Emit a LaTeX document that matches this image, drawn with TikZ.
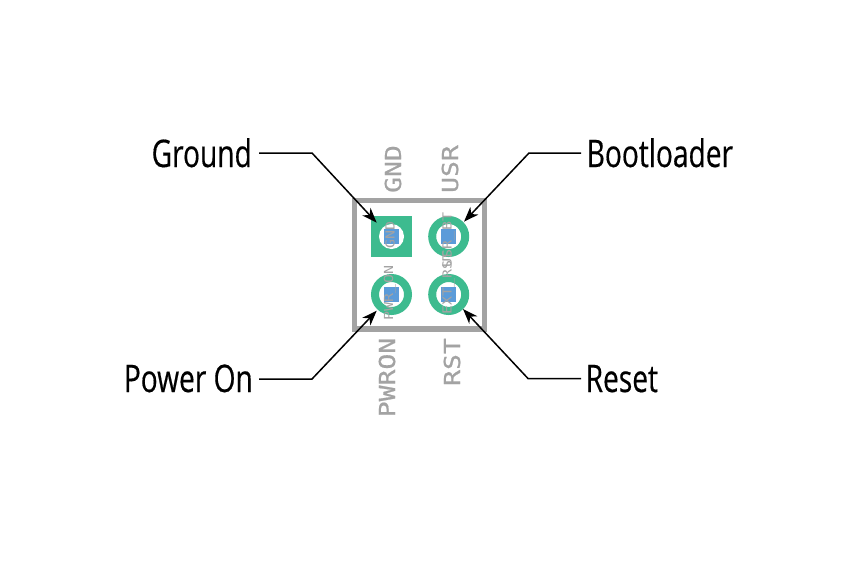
\documentclass[tikz,border=0pt]{standalone}
\usepackage{fontspec}
\setmainfont[FakeStretch=0.74,FakeBold=0.4]{Open Sans}
\newfontfamily\silkfont[FakeStretch=1.2,FakeBold=0.8]{DejaVu Sans Mono}
\newfontfamily\netfont[FakeStretch=1.2]{DejaVu Sans Mono}
\usetikzlibrary{arrows.meta}

\definecolor{padgreen}{HTML}{3DBB8F}
\definecolor{drillblue}{HTML}{5B9BD9}
\definecolor{silkgray}{HTML}{A3A3A3}

\begin{document}
\begin{tikzpicture}[
  x=1pt, y=-1pt,
  outline/.style={draw=silkgray, line width=5.5pt},
  squarepad/.style={rectangle, fill=padgreen, minimum size=41pt, inner sep=0pt},
  hole/.style={circle, fill=white, minimum size=25pt, inner sep=0pt},
  roundpad/.style={circle, draw=padgreen, line width=8pt, fill=white, minimum size=33pt, inner sep=0pt},
  drill/.style={rectangle, fill=drillblue, minimum size=15pt, inner sep=0pt},
  silk/.style={text=silkgray, rotate=90, inner sep=0pt, font=\silkfont\fontsize{22}{22}\selectfont},
  tinysilk/.style={text=silkgray, rotate=90, inner sep=0pt, font=\netfont\fontsize{12.5}{12.5}\selectfont},
  callout/.style={font=\fontsize{38}{40}\selectfont, inner sep=0pt},
  leader/.style={draw, line width=1.5pt, -{Stealth[length=15pt, width=11pt, inset=4.5pt]}}
]
\useasboundingbox (0,0) rectangle (860,560);
\draw [outline] (354.5,200.5) rectangle (484.5,329);

\node [squarepad] (pad1) at (391.5,236.5) {};
\node [hole] (hole1) at (pad1) {};
\node [drill] (drill1) at (pad1) {};
\node [roundpad] (pad2) at (448.7,236.5) {};
\node [drill] (drill2) at (pad2) {};
\node [roundpad] (pad3) at (391.5,294.5) {};
\node [drill] (drill3) at (pad3) {};
\node [roundpad] (pad4) at (448.7,294.5) {};
\node [drill] (drill4) at (pad4) {};

\node [silk] (gnd) at (393,169) {GND};
\node [silk] (usr) at (450,169) {USR};
\node [silk] (pwron) at (387,377.5) {PWRON};
\node [silk] (rst) at (452,362) {RST};

\node [tinysilk] (netgnd) at (390,234.7) {GND};
\node [tinysilk] (netpwr) at (390,293) {PWR\_ON};
\node [tinysilk] (netusr) at (448.5,240) {USR\_BT};
\node [tinysilk] (netrst) at (448.5,283.3) {EXT\_RST};

\node [callout, anchor=base east] (ground) at (252,167) {Ground};
\node [callout, anchor=base west] (bootloader) at (586.5,167) {Bootloader};
\node [callout, anchor=base east] (poweron) at (253,392) {Power On};
\node [callout, anchor=base west] (reset) at (585.5,392) {Reset};

\coordinate (kneeground) at (312,153);
\coordinate (kneeboot) at (529,153);
\coordinate (kneepower) at (312,379);
\coordinate (kneereset) at (528,378.5);
\coordinate (tipground) at (376.7,222.7);
\coordinate (tipboot) at (464,221.7);
\coordinate (tippower) at (376.7,310.7);
\coordinate (tipreset) at (463,309);

\draw [leader] ([xshift=7pt]ground.east |- kneeground) -- (kneeground) -- (tipground);
\draw [leader] ([xshift=-5.5pt]bootloader.west |- kneeboot) -- (kneeboot) -- (tipboot);
\draw [leader] ([xshift=6pt]poweron.east |- kneepower) -- (kneepower) -- (tippower);
\draw [leader] ([xshift=-4.5pt]reset.west |- kneereset) -- (kneereset) -- (tipreset);
\end{tikzpicture}
\end{document}
